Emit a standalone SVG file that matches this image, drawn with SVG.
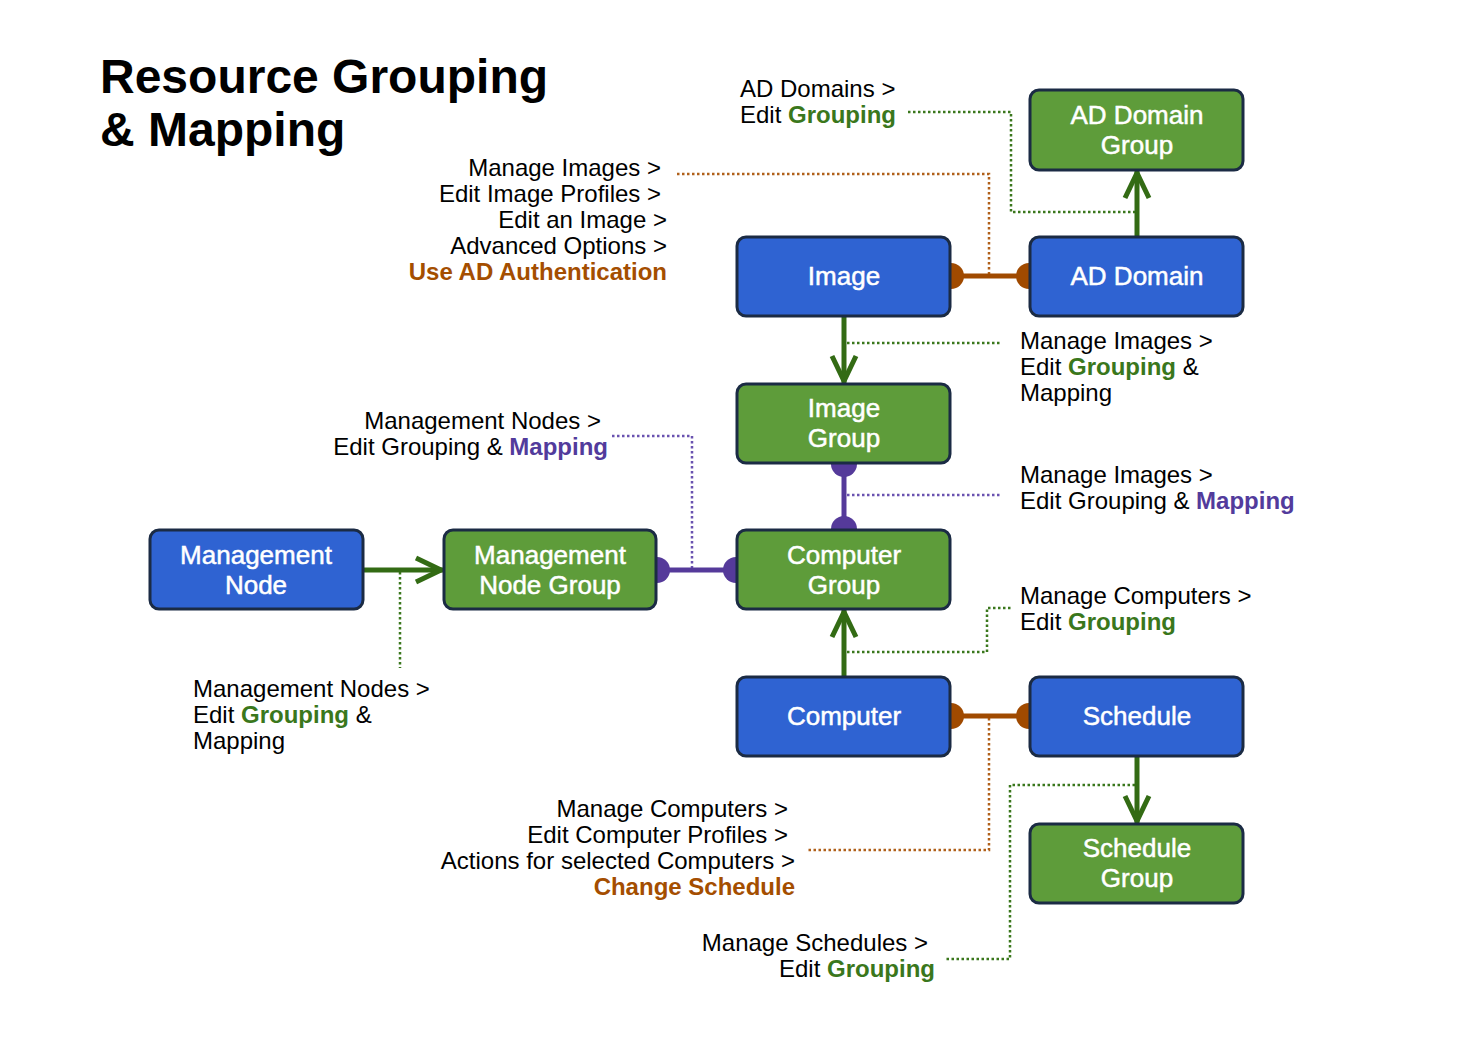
<svg xmlns="http://www.w3.org/2000/svg" width="1470" height="1052" viewBox="0 0 1470 1052">
<defs>
<style>
text{font-family:"Liberation Sans",Arial,Helvetica,sans-serif}
.t{font-size:24px;fill:#000}
.b{font-weight:bold}
.g{fill:#3A771C}
.o{fill:#A44E00}
.p{fill:#523B9C}
.title{font-size:48px;font-weight:bold;fill:#000}
.blue{fill:#2F63D2;stroke:#1B2B44;stroke-width:3}
.green{fill:#5E9C3A;stroke:#1B2B44;stroke-width:3}
.lbl{font-size:26px;fill:#fff;stroke:#fff;stroke-width:0.5;text-anchor:middle}
.lg{stroke:#336B14;stroke-width:5;fill:none}
.lo{stroke:#A04A00;stroke-width:5;fill:none}
.lp{stroke:#553A9A;stroke-width:5;fill:none}
.dg{stroke:#3A771C;stroke-width:2.5;stroke-dasharray:2.5 2.5;fill:none}
.do{stroke:#B0601A;stroke-width:2.5;stroke-dasharray:2.5 2.5;fill:none}
.dp{stroke:#6A52B0;stroke-width:2.5;stroke-dasharray:2.5 2.5;fill:none}
.co{fill:#A04A00}
.cp{fill:#553A9A}
</style>
<marker id="arr" markerUnits="userSpaceOnUse" viewBox="-34 -16 40 32" refX="0" refY="0" markerWidth="40" markerHeight="32" orient="auto">
<path d="M-28,-12 L-3,0 L-28,12" fill="none" stroke="#336B14" stroke-width="5"/>
</marker>
</defs>
<rect width="1470" height="1052" fill="#fff"/>
<text class="title" x="100" y="93">Resource Grouping</text>
<text class="title" x="100" y="146">&amp; Mapping</text>

<g id="connectors">
<polyline class="dg" points="908,112 1011,112 1011,212 1135,212"/>
<polyline class="do" points="677,174 989,174 989,274"/>
<line class="dg" x1="847" y1="343" x2="1000" y2="343"/>
<line class="dp" x1="847" y1="495" x2="1000" y2="495"/>
<polyline class="dp" points="612,436 692,436 692,568"/>
<line class="dg" x1="400" y1="572" x2="400" y2="668"/>
<polyline class="dg" points="847,652 987,652 987,608 1012,608"/>
<polyline class="do" points="989,718 989,850 808,850"/>
<polyline class="dg" points="1135,785 1010,785 1010,959 945,959"/>
<line class="lg" x1="844" y1="316" x2="844" y2="384" marker-end="url(#arr)"/>
<line class="lg" x1="1137" y1="237" x2="1137" y2="170" marker-end="url(#arr)"/>
<line class="lg" x1="363" y1="570" x2="444" y2="570" marker-end="url(#arr)"/>
<line class="lg" x1="844" y1="677" x2="844" y2="609" marker-end="url(#arr)"/>
<line class="lg" x1="1137" y1="756" x2="1137" y2="824" marker-end="url(#arr)"/>
<line class="lo" x1="950" y1="276" x2="1030" y2="276"/>
<circle class="co" cx="951" cy="276" r="13"/>
<circle class="co" cx="1029" cy="276" r="13"/>
<line class="lo" x1="950" y1="716" x2="1030" y2="716"/>
<circle class="co" cx="951" cy="716" r="13"/>
<circle class="co" cx="1029" cy="716" r="13"/>
<line class="lp" x1="844" y1="463" x2="844" y2="530"/>
<circle class="cp" cx="844" cy="464" r="13"/>
<circle class="cp" cx="844" cy="529" r="13"/>
<line class="lp" x1="656" y1="570" x2="737" y2="570"/>
<circle class="cp" cx="657" cy="570" r="13"/>
<circle class="cp" cx="736" cy="570" r="13"/>
</g>

<g id="ad-domain-group"><rect class="green" x="1030" y="90" width="213" height="80" rx="9"/><text class="lbl" x="1137" y="124">AD Domain</text><text class="lbl" x="1137" y="154">Group</text></g>
<g id="image"><rect class="blue" x="737" y="237" width="213" height="79" rx="9"/><text class="lbl" x="844" y="285">Image</text></g>
<g id="ad-domain"><rect class="blue" x="1030" y="237" width="213" height="79" rx="9"/><text class="lbl" x="1137" y="285">AD Domain</text></g>
<g id="image-group"><rect class="green" x="737" y="384" width="213" height="79" rx="9"/><text class="lbl" x="844" y="417">Image</text><text class="lbl" x="844" y="447">Group</text></g>
<g id="management-node"><rect class="blue" x="150" y="530" width="213" height="79" rx="9"/><text class="lbl" x="256" y="564">Management</text><text class="lbl" x="256" y="594">Node</text></g>
<g id="management-node-group"><rect class="green" x="444" y="530" width="212" height="79" rx="9"/><text class="lbl" x="550" y="564">Management</text><text class="lbl" x="550" y="594">Node Group</text></g>
<g id="computer-group"><rect class="green" x="737" y="530" width="213" height="79" rx="9"/><text class="lbl" x="844" y="564">Computer</text><text class="lbl" x="844" y="594">Group</text></g>
<g id="computer"><rect class="blue" x="737" y="677" width="213" height="79" rx="9"/><text class="lbl" x="844" y="725">Computer</text></g>
<g id="schedule"><rect class="blue" x="1030" y="677" width="213" height="79" rx="9"/><text class="lbl" x="1137" y="725">Schedule</text></g>
<g id="schedule-group"><rect class="green" x="1030" y="824" width="213" height="79" rx="9"/><text class="lbl" x="1137" y="857">Schedule</text><text class="lbl" x="1137" y="887">Group</text></g>

<g id="labels">
<text class="t" x="740" y="97">AD Domains &gt;</text>
<text class="t" x="740" y="123">Edit <tspan class="b g">Grouping</tspan></text>

<g text-anchor="end">
<text class="t" x="661" y="176">Manage Images &gt;</text>
<text class="t" x="661" y="202">Edit Image Profiles &gt;</text>
<text class="t" x="667" y="228">Edit an Image &gt;</text>
<text class="t" x="667" y="254">Advanced Options &gt;</text>
<text class="t b o" x="667" y="280">Use AD Authentication</text>
<text class="t" x="601" y="429">Management Nodes &gt;</text>
<text class="t" x="608" y="455">Edit Grouping &amp; <tspan class="b p">Mapping</tspan></text>
<text class="t" x="788" y="817">Manage Computers &gt;</text>
<text class="t" x="788" y="843">Edit Computer Profiles &gt;</text>
<text class="t" x="795" y="869">Actions for selected Computers &gt;</text>
<text class="t b o" x="795" y="895">Change Schedule</text>
<text class="t" x="928" y="951">Manage Schedules &gt;</text>
<text class="t" x="935" y="977">Edit <tspan class="b g">Grouping</tspan></text>
</g>

<text class="t" x="1020" y="349">Manage Images &gt;</text>
<text class="t" x="1020" y="375">Edit <tspan class="b g">Grouping</tspan> &amp;</text>
<text class="t" x="1020" y="401">Mapping</text>

<text class="t" x="1020" y="483">Manage Images &gt;</text>
<text class="t" x="1020" y="509">Edit Grouping &amp; <tspan class="b p">Mapping</tspan></text>

<text class="t" x="1020" y="604">Manage Computers &gt;</text>
<text class="t" x="1020" y="630">Edit <tspan class="b g">Grouping</tspan></text>

<text class="t" x="193" y="697">Management Nodes &gt;</text>
<text class="t" x="193" y="723">Edit <tspan class="b g">Grouping</tspan> &amp;</text>
<text class="t" x="193" y="749">Mapping</text>
</g>
</svg>
